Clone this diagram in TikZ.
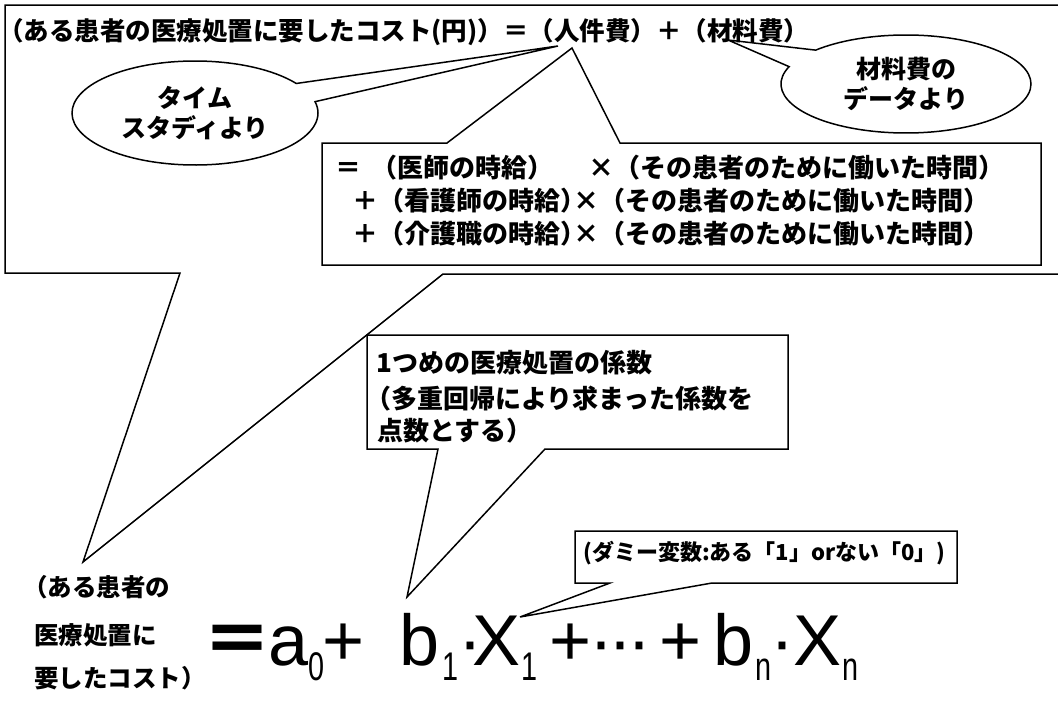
\documentclass[tikz,border=0pt]{standalone}
\usepackage{fontspec}
\usepackage{graphicx}
\newfontfamily\jpfont{Noto Sans CJK JP}
\newfontfamily\eqfont{Liberation Sans}
\usetikzlibrary{shapes.callouts}

% subscript of the regression formula
\newcommand\sbs[1]{\raisebox{-15pt}{\fontsize{40}{40}\selectfont\scalebox{0.72}[1]{#1}}}

\tikzset{
  balloon/.style={draw=black,line width=1.5pt,fill=white,line join=miter},
  jbig/.style={inner sep=0pt,anchor=base west,font=\jpfont\bfseries\fontsize{26}{34}\selectfont},
  jmid/.style={inner sep=0pt,anchor=base west,font=\jpfont\bfseries\fontsize{24.5}{30}\selectfont},
  jsmall/.style={inner sep=0pt,anchor=base west,font=\jpfont\bfseries\fontsize{22}{28}\selectfont}
}

\begin{document}
\begin{tikzpicture}[x=1pt,y=-1pt]

\path[use as bounding box] (0,0) rectangle (1058,704);
\clip (0,0) rectangle (1058,704);

% tips of the callouts
\coordinate (costtip) at (83,562);
\coordinate (labortip) at (572,48);
\coordinate (studytip) at (558,46);
\coordinate (mattip) at (728,40);
\coordinate (coeftip) at (407,597);
\coordinate (dummytip) at (520,617);

% callout frames
\draw[balloon] (180,273) -- (5,273) -- (5,5) -- (1064,5) -- (1064,274) -- (443,274) -- (costtip) -- cycle;

\node (study) [ellipse callout,balloon,minimum width=246pt,minimum height=104pt,
  callout absolute pointer={(studytip)},callout pointer arc=22,align=center,
  font=\jpfont\bfseries\fontsize{25}{30}\selectfont] at (195,113) {タイム\\スタディより};
\node (matdata) [ellipse callout,balloon,minimum width=250pt,minimum height=98pt,
  callout absolute pointer={(mattip)},callout pointer arc=23,align=center,
  font=\jpfont\bfseries\fontsize{25}{30}\selectfont] at (906,84) {材料費の\\データより};

\draw[balloon] (447,143) -- (322,143) -- (322,265) -- (1041,265) -- (1041,143) -- (620,143) -- (labortip) -- cycle;
\draw[balloon] (438,449) -- (367,449) -- (367,335) -- (788,335) -- (788,449) -- (545,449) -- (coeftip) -- cycle;
\draw[balloon] (610,583) -- (575,583) -- (575,531) -- (957,531) -- (957,583) -- (712,583) -- (dummytip) -- cycle;

% texts
\node (costeq) [jbig,font=\jpfont\bfseries\fontsize{25.5}{30}\selectfont] at (-2,40)
  {（ある患者の医療処置に要したコスト(円)）＝（人件費）＋（材料費）};

\node (wage1) [jbig] at (335,177) {＝\hspace{10pt}（医師の時給）};
\node (time1) [jbig] at (588,177) {×（その患者のために働いた時間）};
\node (wage2) [jbig] at (352,210) {＋（看護師の時給）};
\node (time2) [jbig] at (573,210) {×（その患者のために働いた時間）};
\node (wage3) [jbig] at (352,243) {＋（介護職の時給）};
\node (time3) [jbig] at (573,243) {×（その患者のために働いた時間）};

\node (coef1) [jbig] at (376,372) {1つめの医療処置の係数};
\node (coef2) [jbig] at (365,408) {（多重回帰により求まった係数を};
\node (coef3) [jbig] at (377,440) {点数とする）};

\node (dummy) [jsmall] at (583,560) {(ダミー変数:ある「1」orない「0」)};

\node (pat1) [jmid] at (23,596) {（ある患者の};
\node (pat2) [jmid] at (34,644) {医療処置に};
\node (pat3) [jmid] at (34,687) {要したコスト）};

\node (eqn) [inner sep=0pt,anchor=base west] at (202,665)
  {{\jpfont\bfseries\fontsize{70}{70}\selectfont ＝}\hspace{-4pt}{\eqfont\fontsize{72}{72}\selectfont
   a\sbs{0}\hspace{-2pt}+\hspace{35pt}b\hspace{3pt}\sbs{1}\hspace{0pt}·\hspace{-10pt}X\hspace{1pt}\sbs{1}\hspace{12pt}+\hspace{-2pt}·\hspace{-5pt}·\hspace{-5pt}·\hspace{8pt}+\hspace{12pt}b\hspace{2pt}\sbs{n}\hspace{-1pt}·\hspace{-1pt}X\hspace{1pt}\sbs{n}}};

\end{tikzpicture}
\end{document}
